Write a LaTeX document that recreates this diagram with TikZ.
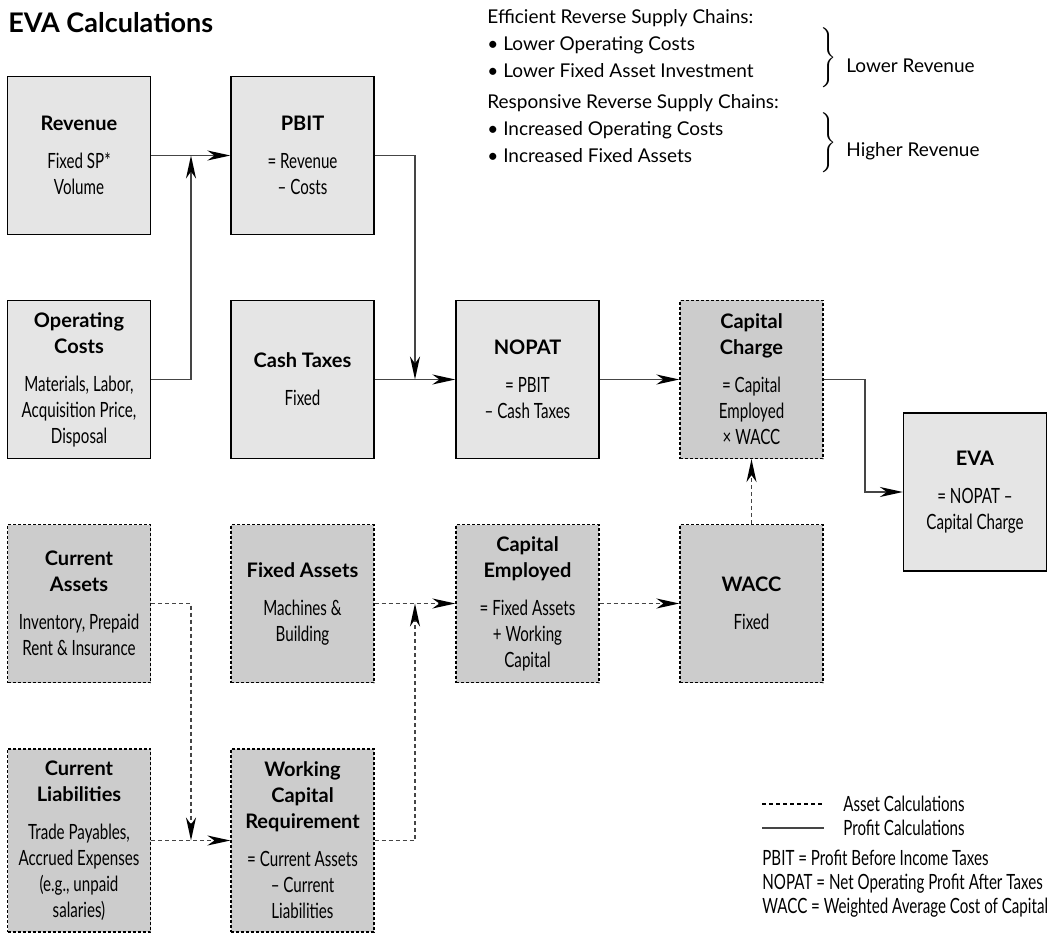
\documentclass[tikz,border=0pt]{standalone}
\usepackage{fontspec}
\setmainfont{Lato}
\newfontfamily\narrowfont[FakeStretch=0.72]{Lato}
\usetikzlibrary{arrows.meta}

\definecolor{profitfill}{gray}{0.9}
\definecolor{assetfill}{gray}{0.8}
\definecolor{linkgray}{gray}{0.27}

\newcommand{\hd}[1]{{\rmfamily\bfseries\fontsize{10}{13}\selectfont #1}}

\tikzset{
  calcbox/.style={draw=black, line width=0.6pt, minimum width=71.5pt,
    minimum height=79pt, align=center, inner sep=2pt,
    font=\narrowfont\fontsize{10.5}{13}\selectfont},
  profitbox/.style={calcbox, fill=profitfill},
  assetbox/.style={calcbox, fill=assetfill, dash pattern=on 1.5pt off 1pt},
  profit/.style={draw=linkgray, line width=0.9pt,
    -{Stealth[length=11.5pt,width=5pt,inset=3.5pt,black]}},
  asset/.style={profit, dash pattern=on 2pt off 1.5pt},
  legendtext/.style={anchor=west, inner sep=0pt,
    font=\narrowfont\fontsize{10.5}{12}\selectfont},
  notetext/.style={anchor=west, inner sep=0pt, font=\fontsize{9.5}{11}\selectfont}
}

\begin{document}
\begin{tikzpicture}[x=0.5pt,y=-0.5pt]
  \useasboundingbox (0,0) rectangle (1050,936);
  \node[anchor=west,inner sep=0pt,font=\bfseries\fontsize{13.5}{15}\selectfont] (title) at (8,23) {EVA Calculations};

  % notes, top right
  \node[notetext] (effhead) at (487,18) {Efficient Reverse Supply Chains:};
  \node[notetext] (eff1) at (487,45) {• Lower Operating Costs};
  \node[notetext] (eff2) at (487,71) {• Lower Fixed Asset Investment};
  \node[inner sep=0pt,font=\fontsize{11}{13}\selectfont] (effbrace) at (829,58) {$\Bigg\}$};
  \node[notetext] (efflab) at (846,66) {Lower Revenue};
  \node[notetext] (reshead) at (487,103) {Responsive Reverse Supply Chains:};
  \node[notetext] (res1) at (487,130) {• Increased Operating Costs};
  \node[notetext] (res2) at (487,156) {• Increased Fixed Assets};
  \node[inner sep=0pt,font=\fontsize{11}{13}\selectfont] (resbrace) at (829,143) {$\Bigg\}$};
  \node[notetext] (reslab) at (846,151) {Higher Revenue};

  % profit boxes
  \node[profitbox] (rev) at (79,155.5) {\hd{Revenue}\\[6pt]Fixed SP*\\Volume};
  \node[profitbox] (pbit) at (302.5,155.5) {\hd{PBIT}\\[6pt]= Revenue\\– Costs};
  \node[profitbox] (opc) at (79,379.5) {\hd{Operating}\\\hd{Costs}\\[6pt]Materials, Labor,\\Acquisition Price,\\Disposal};
  \node[profitbox] (tax) at (302.5,379.5) {\hd{Cash Taxes}\\[6pt]Fixed};
  \node[profitbox] (nopat) at (527.5,379.5) {\hd{NOPAT}\\[6pt]= PBIT\\– Cash Taxes};
  \node[assetbox] (cc) at (751.5,379.5) {\hd{Capital}\\\hd{Charge}\\[6pt]= Capital\\Employed\\× WACC};
  \node[profitbox] (eva) at (975,492) {\hd{EVA}\\[6pt]= NOPAT –\\Capital Charge};

  % asset boxes
  \node[assetbox] (ca) at (79,603.5) {\hd{Current}\\\hd{Assets}\\[6pt]Inventory, Prepaid\\Rent \& Insurance};
  \node[assetbox] (fa) at (302.5,603.5) {\hd{Fixed Assets}\\[6pt]Machines \&\\Building};
  \node[assetbox] (ce) at (527.5,603.5) {\hd{Capital}\\\hd{Employed}\\[6pt]= Fixed Assets\\+ Working\\Capital};
  \node[assetbox] (wacc) at (751.5,603.5) {\hd{WACC}\\[6pt]Fixed};
  \node[assetbox,minimum height=91.5pt] (cl) at (79,840.5) {\hd{Current}\\\hd{Liabilities}\\[6pt]Trade Payables,\\Accrued Expenses\\(e.g., unpaid\\salaries)};
  \node[assetbox,minimum height=91.5pt] (wcr) at (302.5,840.5) {\hd{Working}\\\hd{Capital}\\\hd{Requirement}\\[6pt]= Current Assets\\– Current\\Liabilities};

  % joins
  \coordinate (revjoin) at (191,155.5);
  \coordinate (nopatjoin) at (415,379.5);
  \coordinate (wcrjoin) at (191,840.5);
  \coordinate (cejoin) at (415,603.5);

  % profit calculations
  \draw[profit] (rev) -- (pbit);
  \draw[profit] (opc.east) -| (revjoin);
  \draw[profit] (pbit.east) -| (nopatjoin);
  \draw[profit] (tax) -- (nopat);
  \draw[profit] (nopat) -- (cc);
  \draw[profit] (cc.east) -- ++(41,0) |- (eva.west);

  % asset calculations
  \draw[asset] (ca.east) -| (wcrjoin);
  \draw[asset] (cl) -- (wcr);
  \draw[asset] (fa) -- (ce);
  \draw[asset] (wcr.east) -| (cejoin);
  \draw[asset] (ce) -- (wacc);
  \draw[asset] (wacc) -- (cc);

  % legend
  \coordinate (assetA) at (762,804);
  \coordinate (assetB) at (824,804);
  \coordinate (profitA) at (762,828);
  \coordinate (profitB) at (824,828);
  \draw[black,line width=0.6pt,dash pattern=on 2pt off 1.5pt] (assetA) -- (assetB);
  \draw[linkgray,line width=0.9pt] (profitA) -- (profitB);
  \node[legendtext] (assetlab) at (843,804) {Asset Calculations};
  \node[legendtext] (profitlab) at (843,828) {Profit Calculations};
  \node[legendtext,anchor=north west,align=left] (abbrev) at (762,850)
    {PBIT = Profit Before Income Taxes\\NOPAT = Net Operating Profit After Taxes\\WACC = Weighted Average Cost of Capital};
\end{tikzpicture}
\end{document}
